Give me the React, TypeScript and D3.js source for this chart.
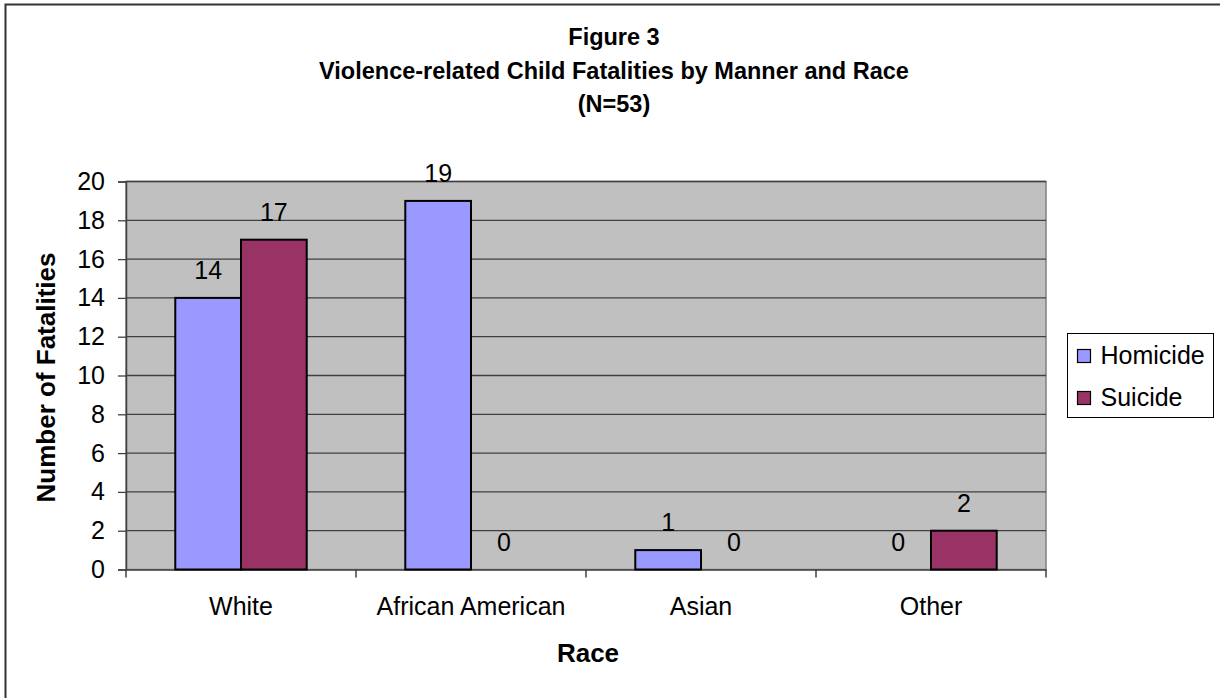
import * as d3 from "d3";
import { useEffect, useRef } from "react";

// data
const races = ["White", "African American", "Asian", "Other"];
const seriesNames = ["Homicide", "Suicide"];
const homicide = [14, 19, 1, 0];
const suicide = [17, 0, 0, 2];
const yTicks = [0, 2, 4, 6, 8, 10, 12, 14, 16, 18, 20];
const titleLines = ["Figure 3", "Violence-related Child Fatalities by Manner and Race", "(N=53)"];

const colors = ["#9999FF", "#993366"];
const font = "'Liberation Sans', Arial, sans-serif";

const App = () => {
  const ref = useRef<HTMLDivElement>(null);

  useEffect(() => {
    d3.select(ref.current).select("svg").remove();

    const W = 1220, H = 698;
    const plot = { left: 126, right: 1046, top: 181.5, bottom: 569.5 };

    const svg = d3
      .select(ref.current)
      .append("svg")
      .attr("width", W)
      .attr("height", H)
      .style("position", "absolute")
      .style("left", 0)
      .style("top", 0)
      .style("font-family", font);

    svg.append("rect").attr("width", W).attr("height", H).attr("fill", "#fff");

    // outer chart border (runs off the right/bottom of the picture)
    svg
      .append("rect")
      .attr("x", 5.5)
      .attr("y", 4.5)
      .attr("width", W + 20)
      .attr("height", H + 20)
      .attr("fill", "none")
      .attr("stroke", "#333")
      .attr("stroke-width", 2);

    // title
    svg
      .append("g")
      .selectAll("text")
      .data(titleLines)
      .join("text")
      .attr("x", 614)
      .attr("y", (d, i) => 45 + i * 33.5)
      .attr("text-anchor", "middle")
      .attr("font-weight", "bold")
      .attr("font-size", 23.5)
      .text((d) => d);

    const x0 = d3.scaleBand().domain(races).range([plot.left, plot.right]).paddingInner(0).paddingOuter(0);
    const groupW = x0.bandwidth() * (2 / 3.5);
    const x1 = d3.scaleBand().domain(seriesNames).range([0, groupW]);
    const y = d3.scaleLinear().domain([0, 20]).range([plot.bottom, plot.top]);

    // plot background
    svg
      .append("rect")
      .attr("x", plot.left)
      .attr("y", plot.top)
      .attr("width", plot.right - plot.left)
      .attr("height", plot.bottom - plot.top)
      .attr("fill", "#C0C0C0")
      .attr("stroke", "#808080")
      .attr("stroke-width", 1.5);

    // gridlines
    svg
      .append("g")
      .selectAll("line")
      .data(yTicks.filter((t) => t > 0))
      .join("line")
      .attr("x1", plot.left)
      .attr("x2", plot.right)
      .attr("y1", (d) => y(d))
      .attr("y2", (d) => y(d))
      .attr("stroke", "#404040")
      .attr("stroke-width", 1.3);

    // y axis
    const yAxis = svg
      .append("g")
      .attr("transform", `translate(${plot.left},0)`)
      .call(d3.axisLeft(y).tickValues(yTicks).tickSize(8).tickPadding(13));
    yAxis.select(".domain").attr("stroke", "#404040").attr("stroke-width", 1.5);
    yAxis.selectAll(".tick line").attr("stroke", "#404040").attr("stroke-width", 1.3);
    yAxis
      .selectAll("text")
      .attr("font-family", font)
      .attr("font-size", 25)
      .attr("fill", "#000");

    // x axis
    const xAxis = svg
      .append("g")
      .attr("transform", `translate(0,${plot.bottom})`)
      .call(d3.axisBottom(x0).tickSize(0).tickPadding(0));
    xAxis.select(".domain").attr("stroke", "#404040").attr("stroke-width", 1.5);
    xAxis
      .selectAll("text")
      .attr("font-family", font)
      .attr("font-size", 25)
      .attr("fill", "#000")
      .attr("dy", 0)
      .attr("y", 45.5);
    svg
      .append("g")
      .selectAll("line")
      .data([...races.map((r) => x0(r) as number), plot.right])
      .join("line")
      .attr("x1", (d) => d)
      .attr("x2", (d) => d)
      .attr("y1", plot.bottom)
      .attr("y2", plot.bottom + 8)
      .attr("stroke", "#404040")
      .attr("stroke-width", 1.5);

    // bars
    const rows = races.map((r, i) => ({ race: r, values: [homicide[i], suicide[i]] }));
    const groups = svg
      .append("g")
      .selectAll("g")
      .data(rows)
      .join("g")
      .attr("transform", (d) => `translate(${(x0(d.race) as number) + (x0.bandwidth() - groupW) / 2},0)`);

    groups
      .selectAll("rect")
      .data((d) => d.values.map((v, i) => ({ v, s: seriesNames[i], i })))
      .join("rect")
      .filter((d) => d.v > 0)
      .attr("x", (d) => x1(d.s) as number)
      .attr("y", (d) => y(d.v))
      .attr("width", x1.bandwidth())
      .attr("height", (d) => y(0) - y(d.v))
      .attr("fill", (d) => colors[d.i])
      .attr("stroke", "#000")
      .attr("stroke-width", 2);

    groups
      .selectAll("text")
      .data((d) => d.values.map((v, i) => ({ v, s: seriesNames[i] })))
      .join("text")
      .attr("x", (d) => (x1(d.s) as number) + x1.bandwidth() / 2)
      .attr("y", (d) => y(d.v) - 19)
      .attr("text-anchor", "middle")
      .attr("font-size", 25)
      .text((d) => d.v);

    // axis titles
    svg
      .append("text")
      .attr("x", (plot.left + plot.right) / 2 + 2)
      .attr("y", 662)
      .attr("text-anchor", "middle")
      .attr("font-weight", "bold")
      .attr("font-size", 26)
      .text("Race");

    svg
      .append("text")
      .attr("transform", `translate(55,${(plot.top + plot.bottom) / 2 + 2}) rotate(-90)`)
      .attr("text-anchor", "middle")
      .attr("font-weight", "bold")
      .attr("font-size", 26)
      .text("Number of Fatalities");

    // legend
    const lg = svg.append("g").attr("transform", "translate(1067.5,333.5)");
    lg.append("rect")
      .attr("width", 146)
      .attr("height", 84)
      .attr("fill", "#fff")
      .attr("stroke", "#000")
      .attr("stroke-width", 1);
    const item = lg
      .selectAll("g")
      .data(seriesNames)
      .join("g")
      .attr("transform", (d, i) => `translate(0,${21 + i * 42})`);
    item
      .append("rect")
      .attr("x", 10)
      .attr("y", -5)
      .attr("width", 13)
      .attr("height", 13)
      .attr("fill", (d, i) => colors[i])
      .attr("stroke", "#000")
      .attr("stroke-width", 1.2);
    item
      .append("text")
      .attr("x", 33)
      .attr("y", 9)
      .attr("font-size", 25)
      .text((d) => d);
  }, []);

  return <div ref={ref} />;
};

export default App;
